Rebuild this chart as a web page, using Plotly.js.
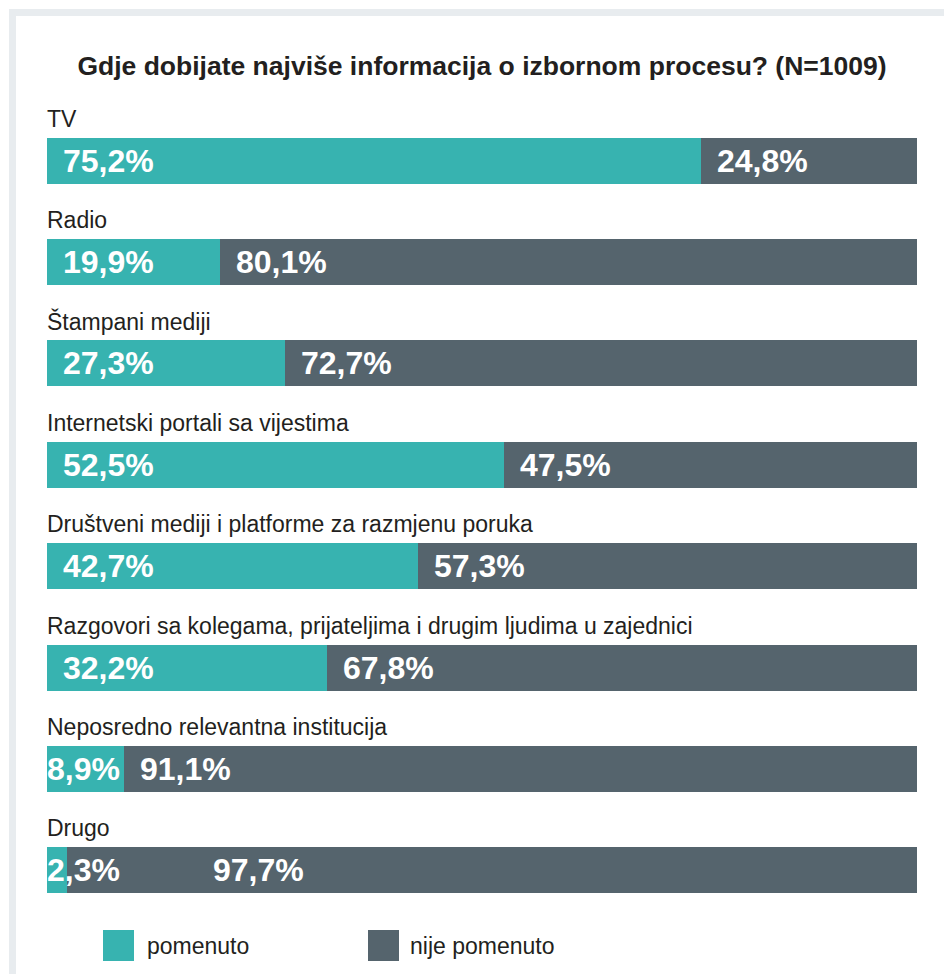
<!DOCTYPE html>
<html>
<head>
<meta charset="utf-8">
<script src="https://cdn.plot.ly/plotly-3.0.1.min.js"></script>
<style>
  html, body { margin: 0; padding: 0; background: #ffffff; }
  #wrap { position: relative; width: 944px; height: 974px; }
  #chart { position: absolute; left: 0; top: 0; width: 944px; height: 974px; }
  #frame { position: absolute; left: 9px; top: 9px; width: 935px; height: 965px;
           border-top: 7px solid #e8ecef; border-left: 7px solid #e8ecef;
           box-sizing: border-box; pointer-events: none; }
</style>
</head>
<body>
<div id="wrap">
  <div id="chart"></div>
  <div id="frame"></div>
</div>
<script>
// ---- data ----
const categories = [
  "TV",
  "Radio",
  "Štampani mediji",
  "Internetski portali sa vijestima",
  "Društveni mediji i platforme za razmjenu poruka",
  "Razgovori sa kolegama, prijateljima i drugim ljudima u zajednici",
  "Neposredno relevantna institucija",
  "Drugo"
];
const pomenuto     = [75.2, 19.9, 27.3, 52.5, 42.7, 32.2, 8.9, 2.3];
const nijePomenuto = [24.8, 80.1, 72.7, 47.5, 57.3, 67.8, 91.1, 97.7];
const seriesNames  = ["pomenuto", "nije pomenuto"];
const titleText = "Gdje dobijate najviše informacija o izbornom procesu? (N=1009)";

// ---- style ----
const TEAL = "#37b3b0";
const DARK = "#55646d";
const TXT = "#231f20";
const FONT = "Liberation Sans, Arial, sans-serif";
const W = 944, H = 974;
const M = {l: 47, r: 27, t: 110, b: 53};
const tealShift = [16, 16, 16, 16, 16, 16, 0, 0];
const darkShift = [16, 16, 16, 16, 16, 16, 16, 146];

const fmt = v => v.toFixed(1).replace('.', ',') + '%';
const pw = W - M.l - M.r, ph = H - M.t - M.b;
const px2x = p => (p - M.l) / pw;
const py2y = p => (H - M.b - p) / ph;

const traces = [
  {type: 'bar', orientation: 'h', name: seriesNames[0], y: categories, x: pomenuto,
   marker: {color: TEAL, line: {width: 0}}, width: 0.4535, hoverinfo: 'none'},
  {type: 'bar', orientation: 'h', name: seriesNames[1], y: categories, x: nijePomenuto,
   marker: {color: DARK, line: {width: 0}}, width: 0.4535, hoverinfo: 'none'}
];

const annotations = [];
categories.forEach((c, i) => {
  annotations.push({x: 0, y: c, xref: 'x', yref: 'y', text: c, showarrow: false,
    xanchor: 'left', yanchor: 'middle', yshift: 42, xshift: -2,
    font: {family: FONT, size: 23, color: TXT}});
  annotations.push({x: 0, y: c, xref: 'x', yref: 'y', text: '<b>' + fmt(pomenuto[i]) + '</b>',
    showarrow: false, xanchor: 'left', yanchor: 'middle', xshift: tealShift[i] - 2, yshift: 0,
    font: {family: FONT, size: 32, color: '#ffffff'}});
  annotations.push({x: pomenuto[i], y: c, xref: 'x', yref: 'y', text: '<b>' + fmt(nijePomenuto[i]) + '</b>',
    showarrow: false, xanchor: 'left', yanchor: 'middle', xshift: darkShift[i] - 2, yshift: 0,
    font: {family: FONT, size: 32, color: '#ffffff'}});
});

// legend (drawn manually for square swatches)
const legendItems = [
  {name: seriesNames[0], color: TEAL, x0: 103, tx: 145},
  {name: seriesNames[1], color: DARK, x0: 368, tx: 408}
];
const shapes = [];
legendItems.forEach(it => {
  shapes.push({type: 'rect', xref: 'paper', yref: 'paper',
    x0: px2x(it.x0), x1: px2x(it.x0 + 31), y0: py2y(961), y1: py2y(930),
    fillcolor: it.color, line: {width: 0}});
  annotations.push({xref: 'paper', yref: 'paper', x: px2x(it.tx), y: py2y(945.5),
    text: it.name, showarrow: false, xanchor: 'left', yanchor: 'middle',
    font: {family: FONT, size: 23, color: TXT}});
});

const layout = {
  width: W, height: H,
  margin: M,
  paper_bgcolor: '#ffffff', plot_bgcolor: '#ffffff',
  barmode: 'stack', showlegend: false,
  title: {text: '<b>' + titleText + '</b>', x: 0.5, xref: 'paper', xanchor: 'center',
          y: 1 - 65.5 / H, yref: 'container', yanchor: 'middle',
          font: {family: FONT, size: 26.5, color: TXT}},
  xaxis: {range: [0, 100], showgrid: false, zeroline: false, showticklabels: false,
          ticks: '', showline: false, fixedrange: true},
  yaxis: {type: 'category', categoryorder: 'array', categoryarray: categories,
          range: [7.5, -0.5], showgrid: false, zeroline: false, showticklabels: false,
          ticks: '', showline: false, fixedrange: true},
  annotations: annotations,
  shapes: shapes
};

Plotly.newPlot('chart', traces, layout, {displayModeBar: false, staticPlot: true});
</script>
</body>
</html>
